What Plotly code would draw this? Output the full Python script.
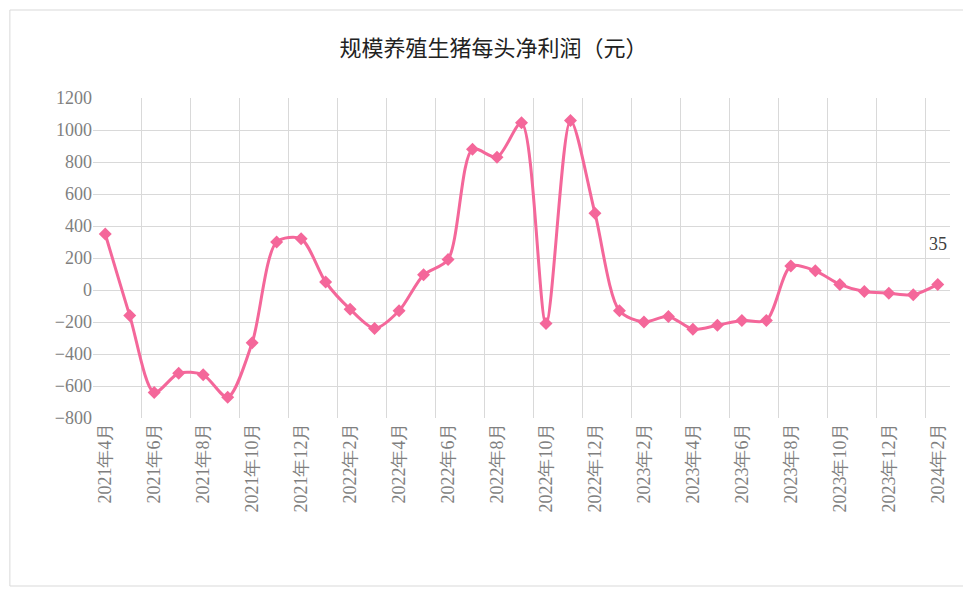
import plotly.graph_objects as go

months = ["2021年4月","2021年5月","2021年6月","2021年7月","2021年8月","2021年9月","2021年10月","2021年11月","2021年12月",
          "2022年1月","2022年2月","2022年3月","2022年4月","2022年5月","2022年6月","2022年7月","2022年8月","2022年9月",
          "2022年10月","2022年11月","2022年12月","2023年1月","2023年2月","2023年3月","2023年4月","2023年5月","2023年6月",
          "2023年7月","2023年8月","2023年9月","2023年10月","2023年11月","2023年12月","2024年1月","2024年2月"]
profit = [350,-160,-640,-520,-530,-670,-330,300,320,50,-120,-240,-130,95,190,880,830,1045,-210,1060,480,
          -130,-200,-165,-245,-220,-190,-190,150,120,35,-10,-20,-30,35]

idx = list(range(len(months)))
fig = go.Figure(go.Scatter(x=idx, y=profit, mode="lines+markers",
    line=dict(color="#F4679A", width=3, shape="spline", smoothing=0.8),
    marker=dict(symbol="diamond", size=10, color="#F4679A"), hoverinfo="y"))
fig.add_annotation(x=idx[-1], y=profit[-1], text=str(profit[-1]), showarrow=False, yshift=40,
                   font=dict(family="Liberation Serif", size=18, color="#404040"))
fig.update_layout(
    width=971, height=595, paper_bgcolor="white", plot_bgcolor="white", showlegend=False,
    title=dict(text="规模养殖生猪每头净利润（元）", x=0.5, y=0.933, xanchor="center", yanchor="middle",
               font=dict(family="Noto Sans CJK SC", size=22, color="#222")),
    margin=dict(l=85, r=29, t=90, b=185, autoexpand=False),
    xaxis=dict(range=[-0.5, 34.5], tickmode="array", tickvals=idx[::2], ticktext=months[::2],
               tickangle=-90, showgrid=False, zeroline=False, showline=False, ticks="", automargin=False,
               tickfont=dict(family="Liberation Serif", size=18, color="#7f7f7f"),
               minor=dict(tickmode="array", tickvals=[i - 0.5 for i in range(0, 36, 2)], showgrid=True,
                          gridcolor="#d9d9d9", gridwidth=1)),
    yaxis=dict(range=[-800, 1200], dtick=200, gridcolor="#d9d9d9", zeroline=False, automargin=False,
               tickfont=dict(family="Liberation Serif", size=18, color="#7f7f7f")),
)
fig.add_shape(type="rect", xref="paper", yref="paper", x0=-0.097, x1=1.030, y0=-0.525, y1=1.275,
              line=dict(color="#d9d9d9", width=1))
fig.write_html("out.html")
